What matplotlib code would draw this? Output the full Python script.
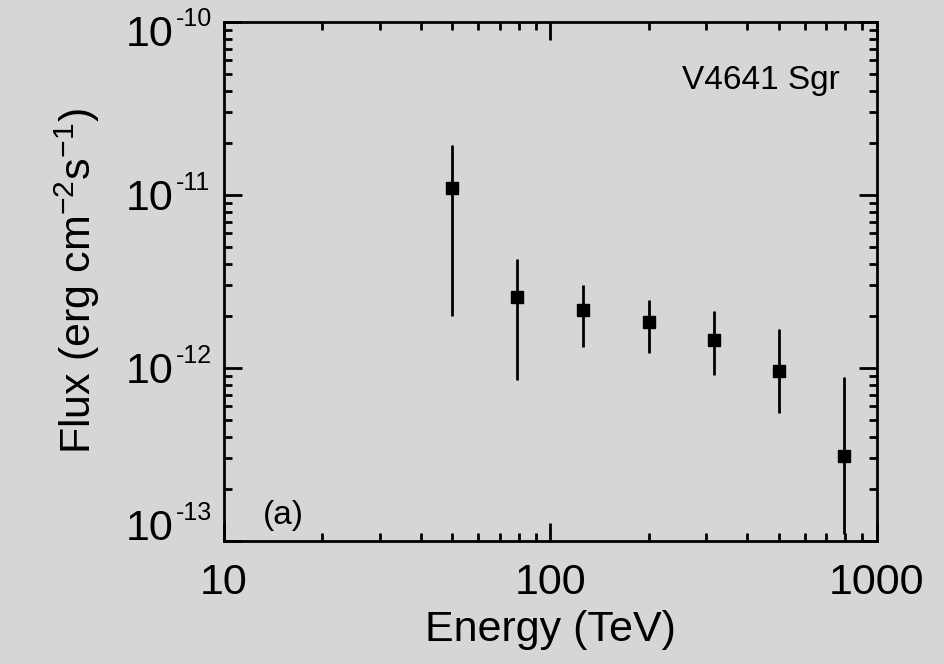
import matplotlib
matplotlib.use("Agg")
import matplotlib.pyplot as plt
import matplotlib.ticker as ticker
import numpy as np

plt.rcParams["font.family"] = ["Liberation Sans", "DejaVu Sans"]
plt.rcParams["mathtext.fontset"] = "custom"
plt.rcParams["mathtext.rm"] = "Liberation Sans"
plt.rcParams["mathtext.it"] = "Liberation Sans"

# data
energy = [50, 79, 126, 200, 316, 501, 794]
flux = [1.10e-11, 2.57e-12, 2.16e-12, 1.85e-12, 1.45e-12, 9.6e-13, 3.1e-13]
flux_hi = [1.94e-11, 4.27e-12, 3.02e-12, 2.47e-12, 2.14e-12, 1.68e-12, 8.9e-13]
flux_lo = [2.0e-12, 8.5e-13, 1.32e-12, 1.22e-12, 9.1e-13, 5.5e-13, 1.1e-13]
y_decades = [-13, -12, -11, -10]

bg = "#d6d6d6"
fig = plt.figure(figsize=(9.45, 6.64), dpi=100, facecolor=bg)
ax = fig.add_axes([224 / 945, 1 - 541 / 664, (877 - 224) / 945, (541 - 22) / 664])
ax.set_facecolor(bg)

flux = np.array(flux)
yerr = [flux - np.array(flux_lo), np.array(flux_hi) - flux]
ax.errorbar(energy, flux, yerr=yerr, fmt="s", color="black", ms=9,
            elinewidth=2, capsize=0)

ax.set_xscale("log")
ax.set_yscale("log")
ax.set_xlim(10, 1000)
ax.set_ylim(1e-13, 1e-10)


def xfmt(v, pos):
    return "%d" % round(v)


ax.xaxis.set_major_formatter(ticker.FuncFormatter(xfmt))
ax.yaxis.set_major_formatter(ticker.NullFormatter())
ax.xaxis.set_minor_formatter(ticker.NullFormatter())
ax.yaxis.set_minor_formatter(ticker.NullFormatter())
ax.tick_params(which="both", direction="in", top=True, right=True,
               width=2, labelsize=31, colors="black")
ax.tick_params(which="major", length=13, pad=16)
ax.tick_params(which="minor", length=6)
for s in ax.spines.values():
    s.set_linewidth(2)

# y tick labels as 10 with a small raised exponent
for i, e in enumerate(y_decades):
    nudge = 0
    if i == 0:
        nudge = 11.5
    elif i == len(y_decades) - 1:
        nudge = -6.5
    ax.annotate("10", xy=(0, 10.0 ** e), xycoords=("axes fraction", "data"),
                xytext=(-36.7, -10.8 + nudge), textcoords="offset points",
                ha="right", va="baseline", fontsize=31)
    ax.annotate("-%d" % -e, xy=(0, 10.0 ** e), xycoords=("axes fraction", "data"),
                xytext=(-34.5, 3.6 + nudge), textcoords="offset points",
                ha="left", va="baseline", fontsize=18)

ax.set_xlabel("Energy (TeV)", fontsize=31, labelpad=5)
ax.set_ylabel(r"Flux (erg cm$^{\mathregular{-2}}$s$^{\mathregular{-1}}$)",
              fontsize=31, labelpad=72)

ax.text(0.943, 0.887, "V4641 Sgr", transform=ax.transAxes, fontsize=24,
        ha="right", va="center")
ax.text(0.06, 0.05, "(a)", transform=ax.transAxes, fontsize=24,
        ha="left", va="center")

fig.savefig("out.png", dpi=100, facecolor=bg)
